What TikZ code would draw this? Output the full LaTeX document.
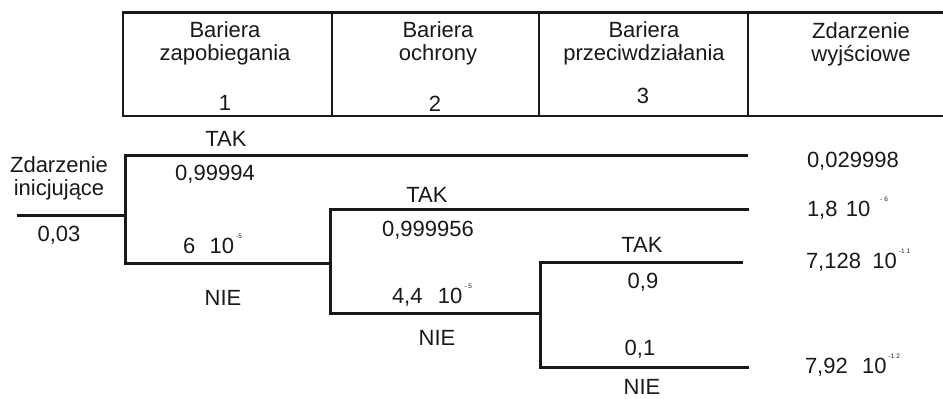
\documentclass[tikz,border=0pt]{standalone}
\usepackage{fontspec}
\setmainfont{Liberation Sans}
\newcommand\expo[2][2]{\hspace{#1bp}\raisebox{15bp}{\fontsize{6.5bp}{6.5bp}\selectfont #2}}
\newcommand\msep[2]{\hspace{#1bp}\raisebox{15bp}{\textcolor{black!25}{\fontsize{5bp}{5bp}\selectfont .}}\hspace{#2bp}}
\begin{document}
\begin{tikzpicture}[x=1bp,y=-1bp,
  every node/.style={inner sep=0pt, outer sep=0pt, text=black!90,
    font=\fontsize{22bp}{22.5bp}\selectfont},
  hline/.style={line width=2.6bp, draw=black!90, line cap=butt, line join=miter},
  branch/.style={line width=3bp, draw=black!90, line cap=butt, line join=miter},
  head/.style={anchor=north, align=center},
  lbl/.style={anchor=base},
  val/.style={anchor=base west}]
\useasboundingbox (0,0) rectangle (943,398);
% header table
\coordinate (tl) at (123,12.5);
\coordinate (tr) at (943,12.5);
\coordinate (bl) at (123,116);
\coordinate (br) at (943,116);
\coordinate (v2t) at (332,12.5); \coordinate (v2b) at (332,116);
\coordinate (v3t) at (539,12.5); \coordinate (v3b) at (539,116);
\coordinate (v4t) at (748,12.5); \coordinate (v4b) at (748,116);
\draw[hline] (tr) -- (tl) -- (bl) -- (br);
\draw[hline] (v2t) -- (v2b);
\draw[hline] (v3t) -- (v3b);
\draw[hline] (v4t) -- (v4b);
\node[head] (c1) at (225,22) {Bariera\\zapobiegania};
\node[head] (c2) at (438,22) {Bariera\\ochrony};
\node[head] (c3) at (644,22) {Bariera\\przeciwdziałania};
\node[head] (c4) at (861,23) {Zdarzenie\\wyjściowe};
\node[lbl] (n1) at (225,110) {1};
\node[lbl] (n2) at (435,111) {2};
\node[lbl] (n3) at (643,103) {3};
% tree
\coordinate (s) at (17,215);
\coordinate (j1) at (125,215);
\coordinate (j1t) at (125,155);
\coordinate (j1b) at (125,263);
\coordinate (e1) at (748,155);
\coordinate (j2t) at (330,209);
\coordinate (j2b) at (330,313);
\coordinate (j2) at (330,263);
\coordinate (e2) at (749,209);
\coordinate (j3t) at (540,262);
\coordinate (j3b) at (540,367);
\coordinate (j3) at (540,313);
\coordinate (e3) at (743,262);
\coordinate (e4) at (749,367);
\draw[branch] (s) -- (j1);
\draw[branch] (e1) -- (j1t) -- (j1b) -- (j2);
\draw[branch] (e2) -- (j2t) -- (j2b) -- (j3);
\draw[branch] (e3) -- (j3t) -- (j3b) -- (e4);
% labels
\node[head] (init) at (59,157) {Zdarzenie\\inicjujące};
\node[lbl] (p0) at (59,241) {0,03};
\node[lbl] (tak1) at (226,146) {TAK};
\node[lbl] (p11) at (215,180) {0,99994};
\node[val] (p12) at (183,253) {6\msep{6}{7}10\expo{-5}};
\node[lbl] (nie1) at (223,305) {NIE};
\node[lbl] (tak2) at (427,202) {TAK};
\node[lbl] (p21) at (428,236) {0,999956};
\node[val] (p22) at (392,303) {4,4\msep{7}{7}10\expo{- 5}};
\node[lbl] (nie2) at (437,345) {NIE};
\node[lbl] (tak3) at (642,252) {TAK};
\node[lbl] (p31) at (643,288) {0,9};
\node[lbl] (p32) at (640,355) {0,1};
\node[lbl] (nie3) at (642,394.5) {NIE};
% outcomes
\node[val] (o1) at (807,167) {0,029998};
\node[val] (o2) at (807,216) {1,8\msep{3}{4}10\expo[10]{- 6}};
\node[val] (o3) at (806,268) {7,128\msep{5}{5}10\expo{-1 1}};
\node[val] (o4) at (805,373) {7,92\msep{6}{7}10\expo{-1 2}};
\end{tikzpicture}
\end{document}
